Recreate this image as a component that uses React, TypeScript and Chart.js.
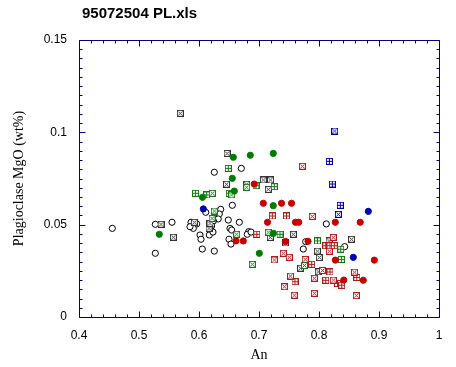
import { useEffect, useRef } from "react";
import { Chart, registerables } from "chart.js";

Chart.register(...registerables);

const chartTitle = "95072504 PL.xls";
const xAxisTitle = "An";
const yAxisTitle = "Plagioclase MgO (wt%)";

const xTickValues = [0.4, 0.5, 0.6, 0.7, 0.8, 0.9, 1];
const xTickLabels = ["0.4", "0.5", "0.6", "0.7", "0.8", "0.9", "1"];
const yTickValues = [0, 0.05, 0.1, 0.15];
const yTickLabels = ["0", "0.05", "0.1", "0.15"];

// [An, MgO]
const openCircles: [number, number][] = [
  [0.4555, 0.048], [0.5272, 0.0502], [0.555, 0.0513], [0.5272, 0.0345], [0.6255, 0.0784],
  [0.6705, 0.0805], [0.6555, 0.0605], [0.5867, 0.0513], [0.5962, 0.0504], [0.5905, 0.048],
  [0.6017, 0.0444], [0.6033, 0.0421], [0.6055, 0.0368], [0.6255, 0.0357], [0.6112, 0.0567],
  [0.6172, 0.0444], [0.6362, 0.0583], [0.6338, 0.0558], [0.632, 0.0531], [0.624, 0.052],
  [0.621, 0.0493], [0.6183, 0.0489], [0.6488, 0.0525], [0.6672, 0.0513], [0.6517, 0.048],
  [0.6545, 0.0471], [0.65, 0.0421], [0.6533, 0.0395], [0.6828, 0.0462], [0.6805, 0.0448],
  [0.6867, 0.046], [0.8122, 0.0504], [0.7778, 0.0408], [0.7738, 0.0368], [0.8428, 0.0381],
  [0.7767, 0.0278], [0.585, 0.0489], [0.6233, 0.046],
];
const greenFilled: [number, number][] = [
  [0.6572, 0.0865], [0.6855, 0.0876], [0.7238, 0.0886], [0.6555, 0.0751], [0.6588, 0.0682],
  [0.6058, 0.0648], [0.5338, 0.0448], [0.7005, 0.0345], [0.7238, 0.0603], [0.7242, 0.0453],
];
const blueFilled: [number, number][] = [
  [0.6072, 0.0585], [0.8822, 0.0572], [0.8572, 0.0323],
];
const redFilled: [number, number][] = [
  [0.692, 0.072], [0.7072, 0.0616], [0.7375, 0.0616], [0.7542, 0.0616], [0.7142, 0.0513],
  [0.7608, 0.0513], [0.7662, 0.0513], [0.8272, 0.0513], [0.8687, 0.0513], [0.6617, 0.0412],
  [0.6738, 0.0412], [0.7817, 0.041], [0.8272, 0.0308], [0.8922, 0.0308], [0.8413, 0.02],
  [0.8738, 0.0199], [0.7442, 0.0409],
];
const grayBoxX: [number, number][] = [
  [0.5688, 0.1103], [0.6467, 0.0886], [0.6458, 0.0719], [0.6795, 0.0719], [0.5367, 0.0502],
  [0.5572, 0.0432], [0.5922, 0.0513], [0.6167, 0.048], [0.6183, 0.0507], [0.7072, 0.0742],
  [0.7192, 0.0742], [0.7155, 0.0691], [0.7572, 0.0448], [0.7188, 0.0431], [0.7442, 0.0401],
  [0.8542, 0.0421], [0.8167, 0.0412], [0.7972, 0.0357], [0.8005, 0.0322], [0.7692, 0.0264],
  [0.7988, 0.0245],
];
const greenBoxX: [number, number][] = [
  [0.6222, 0.067], [0.6545, 0.0661], [0.6795, 0.0702], [0.6255, 0.0574], [0.6217, 0.0534],
  [0.6628, 0.0448], [0.6888, 0.0285], [0.7155, 0.0459], [0.7758, 0.0279],
];
const greenBoxPlus: [number, number][] = [
  [0.6488, 0.0805], [0.5942, 0.067], [0.6128, 0.0661], [0.6505, 0.067], [0.695, 0.0711],
  [0.7255, 0.0706], [0.735, 0.0448], [0.7975, 0.0412], [0.8362, 0.0367], [0.8372, 0.0312],
];
const blueBoxX: [number, number][] = [[0.8262, 0.1007], [0.8322, 0.0556]];
const blueBoxPlus: [number, number][] = [[0.8172, 0.0843], [0.8222, 0.072], [0.8355, 0.0605]];
const redBoxX: [number, number][] = [
  [0.7722, 0.0816], [0.7888, 0.0545], [0.8238, 0.0431], [0.8172, 0.0356], [0.7405, 0.0345],
  [0.7505, 0.0323], [0.7255, 0.0309], [0.777, 0.0312], [0.7525, 0.0222], [0.7422, 0.0164],
  [0.7588, 0.0118], [0.7922, 0.021], [0.7922, 0.0128], [0.8058, 0.0252], [0.8238, 0.02],
  [0.8592, 0.0243], [0.8622, 0.0116],
];
const redBoxPlus: [number, number][] = [
  [0.6963, 0.0448], [0.7222, 0.0547], [0.7458, 0.0547], [0.7878, 0.0285], [0.8112, 0.0386],
  [0.8183, 0.0386], [0.8255, 0.0386], [0.76, 0.0191], [0.8183, 0.0244], [0.8112, 0.0199],
  [0.8308, 0.0182], [0.8378, 0.0172], [0.863, 0.0214],
];

const AXIS_COLOR = "#000080";
const GREEN = "#007d00";
const RED = "#c80000";
const BLUE = "#0000b4";
const GRAY = "#333333";
const BOX_GREEN = "#117a11";
const BOX_RED = "#b01c1c";
const BOX_BLUE = "#0000a8";

function boxMarker(color: string, kind: "x" | "plus"): HTMLCanvasElement {
  const s = 7;
  const c = document.createElement("canvas");
  c.width = s;
  c.height = s;
  const g = c.getContext("2d")!;
  g.fillStyle = "#ffffff";
  g.fillRect(0, 0, s, s);
  g.strokeStyle = color;
  g.lineWidth = 1;
  g.strokeRect(0.5, 0.5, s - 1, s - 1);
  g.beginPath();
  if (kind === "x") {
    g.moveTo(1.5, 1.5);
    g.lineTo(5.5, 5.5);
    g.moveTo(5.5, 1.5);
    g.lineTo(1.5, 5.5);
  } else {
    g.moveTo(3.5, 1);
    g.lineTo(3.5, 6);
    g.moveTo(1, 3.5);
    g.lineTo(6, 3.5);
  }
  g.stroke();
  return c;
}

const toPts = (arr: [number, number][]) => arr.map(([x, y]) => ({ x, y }));

const framePlugin = {
  id: "frame",
  afterDatasetsDraw(chart: any) {
    const { ctx, chartArea: a, scales } = chart;
    const xs = scales.x;
    const ys = scales.y;
    const L = Math.round(a.left) + 0.5;
    const R = Math.round(a.right) + 0.5;
    const T = Math.round(a.top) + 0.5;
    const B = Math.round(a.bottom) + 0.5;
    ctx.save();
    ctx.strokeStyle = AXIS_COLOR;
    ctx.lineWidth = 1;
    ctx.beginPath();
    ctx.rect(L, T, R - L, B - T);
    for (let i = 0; i <= 30; i++) {
      const v = 0.4 + i * 0.02;
      const px = Math.round(xs.getPixelForValue(v)) + 0.5;
      const len = i % 5 === 0 ? 6 : 3;
      ctx.moveTo(px, B);
      ctx.lineTo(px, B - len);
      ctx.moveTo(px, T);
      ctx.lineTo(px, T + len);
    }
    for (let i = 0; i <= 30; i++) {
      const v = i * 0.005;
      const py = Math.round(ys.getPixelForValue(v)) + 0.5;
      const len = i % 10 === 0 ? 6 : 3;
      ctx.moveTo(L, py);
      ctx.lineTo(L + len, py);
      ctx.moveTo(R, py);
      ctx.lineTo(R - len, py);
    }
    ctx.stroke();
    ctx.restore();
  },
  afterDraw(chart: any) {
    const { ctx } = chart;
    ctx.save();
    ctx.fillStyle = "#000";
    ctx.font = "bold 15px 'Liberation Sans', Arial, sans-serif";
    ctx.textAlign = "left";
    ctx.textBaseline = "alphabetic";
    ctx.fillText(chartTitle, 82, 18);
    ctx.restore();
  },
};

export default function App() {
  const ref = useRef<HTMLCanvasElement | null>(null);

  useEffect(() => {
    if (!ref.current) return;
    const gBoxX = boxMarker(GRAY, "x");
    const grBoxX = boxMarker(BOX_GREEN, "x");
    const grBoxP = boxMarker(BOX_GREEN, "plus");
    const bBoxX = boxMarker(BOX_BLUE, "x");
    const bBoxP = boxMarker(BOX_BLUE, "plus");
    const rBoxX = boxMarker(BOX_RED, "x");
    const rBoxP = boxMarker(BOX_RED, "plus");

    const circle = (data: [number, number][], fill: string, border: string) => ({
      data: toPts(data),
      pointStyle: "circle",
      pointRadius: 3.1,
      pointBorderWidth: 1,
      pointBackgroundColor: fill,
      pointBorderColor: border,
      showLine: false,
    });
    const img = (data: [number, number][], im: HTMLCanvasElement) => ({
      data: toPts(data),
      pointStyle: im,
      pointRadius: 3.5,
      showLine: false,
    });

    const chart = new Chart(ref.current, {
      type: "scatter",
      data: {
        datasets: [
          circle(blueFilled, BLUE, BLUE),
          circle(greenFilled, GREEN, GREEN),
          circle(redFilled, RED, RED),
          img(blueBoxX, bBoxX),
          img(blueBoxPlus, bBoxP),
          img(greenBoxX, grBoxX),
          img(greenBoxPlus, grBoxP),
          img(redBoxX, rBoxX),
          img(redBoxPlus, rBoxP),
          img(grayBoxX, gBoxX),
          circle(openCircles, "#ffffff", "#000000"),
        ] as any,
      },
      options: {
        animation: false,
        responsive: false,
        maintainAspectRatio: false,
        devicePixelRatio: 1,
        layout: { padding: { top: 40, right: 17, bottom: 0, left: 0 } },
        plugins: { legend: { display: false }, tooltip: { enabled: false }, title: { display: false } },
        scales: {
          x: {
            type: "linear",
            min: 0.4,
            max: 1,
            afterBuildTicks: (s: any) => {
              s.ticks = xTickValues.map((value) => ({ value }));
            },
            afterFit: (s: any) => {
              s.height = 50;
            },
            grid: { display: false, drawTicks: false },
            border: { display: false },
            ticks: {
              autoSkip: false,
              maxRotation: 0,
              padding: 11,
              color: "#000",
              font: { family: "'Liberation Sans', Arial, sans-serif", size: 12 },
              callback: (_v: any, i: number) => xTickLabels[i],
            },
            title: {
              display: true,
              text: xAxisTitle,
              color: "#000",
              font: { family: "'Liberation Serif', 'Times New Roman', serif", size: 14 },
              padding: { top: 0, bottom: 3 },
            },
          },
          y: {
            type: "linear",
            min: 0,
            max: 0.15,
            afterBuildTicks: (s: any) => {
              s.ticks = yTickValues.map((value) => ({ value }));
            },
            afterFit: (s: any) => {
              s.width = 79;
            },
            grid: { display: false, drawTicks: false },
            border: { display: false },
            ticks: {
              autoSkip: false,
              padding: 12,
              color: "#000",
              font: { family: "'Liberation Sans', Arial, sans-serif", size: 12 },
              callback: (_v: any, i: number) => yTickLabels[i],
            },
            title: {
              display: true,
              text: yAxisTitle,
              color: "#000",
              font: { family: "'Liberation Serif', 'Times New Roman', serif", size: 14 },
              padding: { top: 11, bottom: 0 },
            },
          },
        },
      },
      plugins: [framePlugin],
    });
    return () => chart.destroy();
  }, []);

  return (
    <div style={{ position: "fixed", left: 0, top: 0, width: 456, height: 367, background: "#fff" }}>
      <canvas ref={ref} width={456} height={367} style={{ display: "block", width: 456, height: 367 }} />
    </div>
  );
}
